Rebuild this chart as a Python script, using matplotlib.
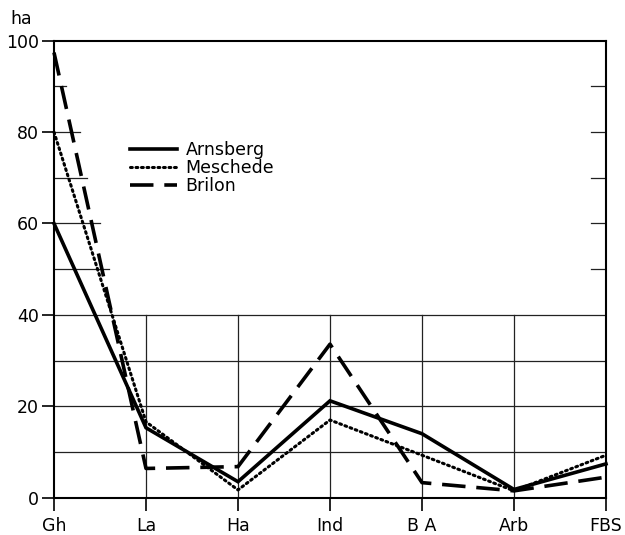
import matplotlib.pyplot as plt

plt.rcParams['font.family'] = ['DejaVu Sans']

categories = ['Gh', 'La', 'Ha', 'Ind', 'B A', 'Arb', 'FBS']
arnsberg = [60, 15.3, 3.5, 21.2, 14, 1.8, 7.4]
meschede = [80, 16.6, 1.7, 17, 9.3, 1.5, 9.3]
brilon = [97.4, 6.4, 6.8, 33.6, 3.3, 1.5, 4.5]

full_grid = [10, 20, 30, 40]
part_grid = {50: 0.6, 60: 0.5, 70: 0.36, 80: 0.28, 90: 0.13}  # left stubs (x extent in category units)
right_ticks = [50, 60, 70, 80, 90]

fig = plt.figure(figsize=(6.25, 5.35), dpi=100)
ax = fig.add_axes([0.0864, 0.0697, 0.8832, 0.8543])
x = list(range(len(categories)))

gc = '#222222'
for y in full_grid:
    ax.plot([0, 6], [y, y], color=gc, lw=0.9, zorder=1)
for xi in x[1:-1]:
    ax.plot([xi, xi], [0, 40], color=gc, lw=0.9, zorder=1)
for y, xe in part_grid.items():
    ax.plot([0, xe], [y, y], color=gc, lw=0.9, zorder=1)
for y in right_ticks:
    ax.plot([6 - 0.16, 6], [y, y], color=gc, lw=0.9, zorder=1)

ax.plot(x, arnsberg, color='black', lw=2.6, ls='-', label='Arnsberg',
        clip_on=False, zorder=3, solid_joinstyle='miter')
ax.plot(x, meschede, color='black', lw=2.2, ls=(0, (0.6, 1.2)), label='Meschede',
        clip_on=False, zorder=3, dash_capstyle='round')
ax.plot(x, brilon, color='black', lw=2.6, ls=(0, (6.5, 3)), label='Brilon',
        clip_on=False, zorder=3)

ax.set_xlim(0, 6)
ax.set_ylim(0, 100)
ax.set_xticks(x)
ax.set_xticklabels(categories)
ax.set_yticks([0, 20, 40, 60, 80, 100])
ax.tick_params(axis='both', labelsize=12.5, length=9, width=1.2, color='black')
ax.tick_params(axis='x', pad=5)
ax.tick_params(axis='y', pad=2)
for s in ax.spines.values():
    s.set_linewidth(1.5)

fig.text(0.016, 0.955, 'ha', fontsize=12.5)

leg = ax.legend(loc='upper left', bbox_to_anchor=(0.138, 0.78), frameon=False,
                fontsize=12.5, handlelength=2.7, handletextpad=0.5,
                labelspacing=0.0, borderaxespad=0, borderpad=0)

fig.savefig('out.png', dpi=100)
